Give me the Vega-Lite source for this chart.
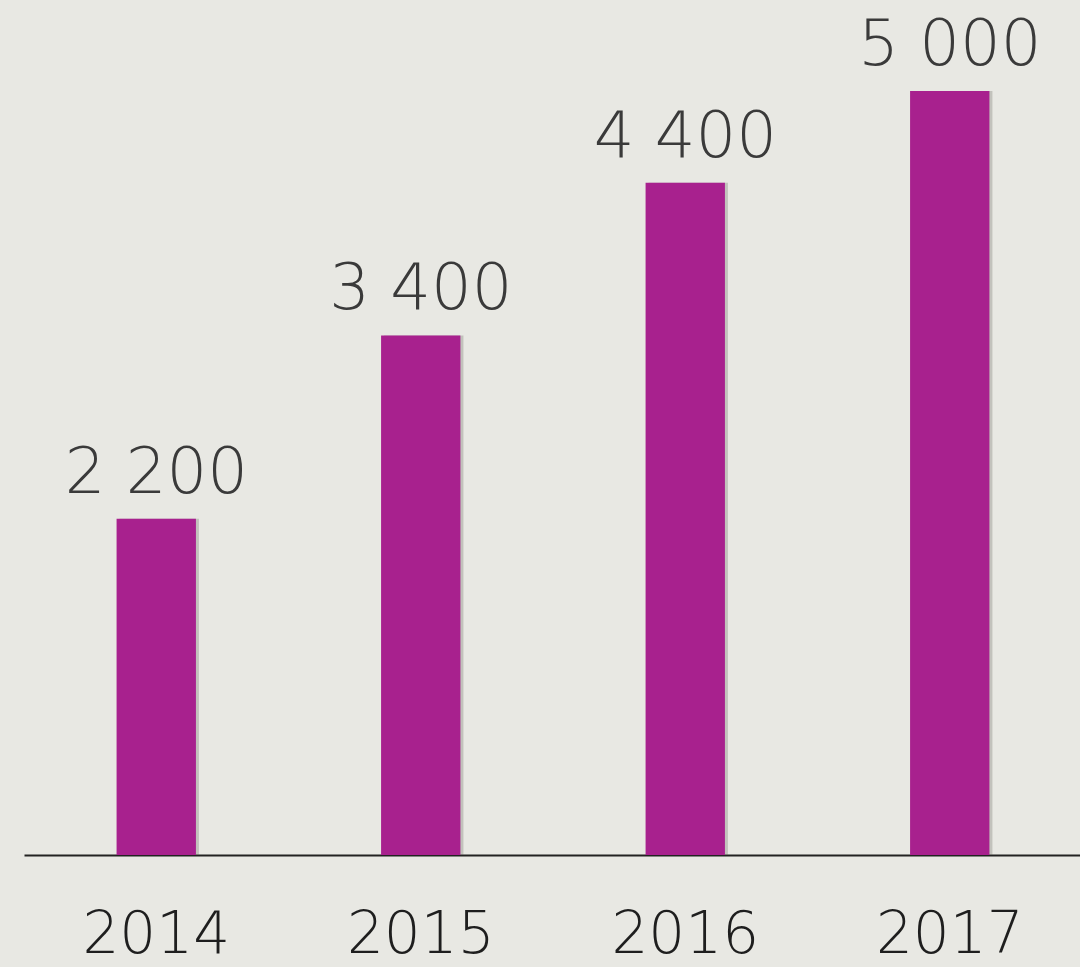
{
  "$schema": "https://vega.github.io/schema/vega-lite/v6.json",
  "autosize": {"type": "none"},
  "width": 1058,
  "height": 764,
  "padding": {"left": 24, "top": 91, "right": 0, "bottom": 112},
  "background": "#e8e8e3",
  "config": {"view": {"stroke": null}},
  "data": {"values": [
    {"year": "2014", "value": 2200, "label": "2 200"},
    {"year": "2015", "value": 3400, "label": "3 400"},
    {"year": "2016", "value": 4400, "label": "4 400"},
    {"year": "2017", "value": 5000, "label": "5 000"}
  ]},
  "encoding": {
    "x": {"field": "year", "type": "ordinal", "title": null,
      "scale": {"paddingInner": 0.7, "paddingOuter": 0.35},
      "axis": {"labelAngle": 0, "ticks": false, "domainColor": "#222222", "domainWidth": 2,
        "labelFont": "DejaVu Sans", "labelFontWeight": 200, "labelFontSize": 58, "labelColor": "#1e1e1e",
        "labelBaseline": "alphabetic", "labelPadding": 97}},
    "y": {"field": "value", "type": "quantitative", "scale": {"domain": [0, 5000]}, "axis": null}
  },
  "layer": [
    {"mark": {"type": "bar", "color": "#6a6a62", "opacity": 0.3, "xOffset": 3, "clip": false}},
    {"mark": {"type": "bar", "color": "#a8218e", "clip": false}},
    {"mark": {"type": "text", "font": "DejaVu Sans", "fontWeight": 200, "fontSize": 64, "color": "#3a3a3a", "baseline": "alphabetic", "dy": -26, "clip": false},
     "encoding": {"text": {"field": "label"}}}
  ]
}
